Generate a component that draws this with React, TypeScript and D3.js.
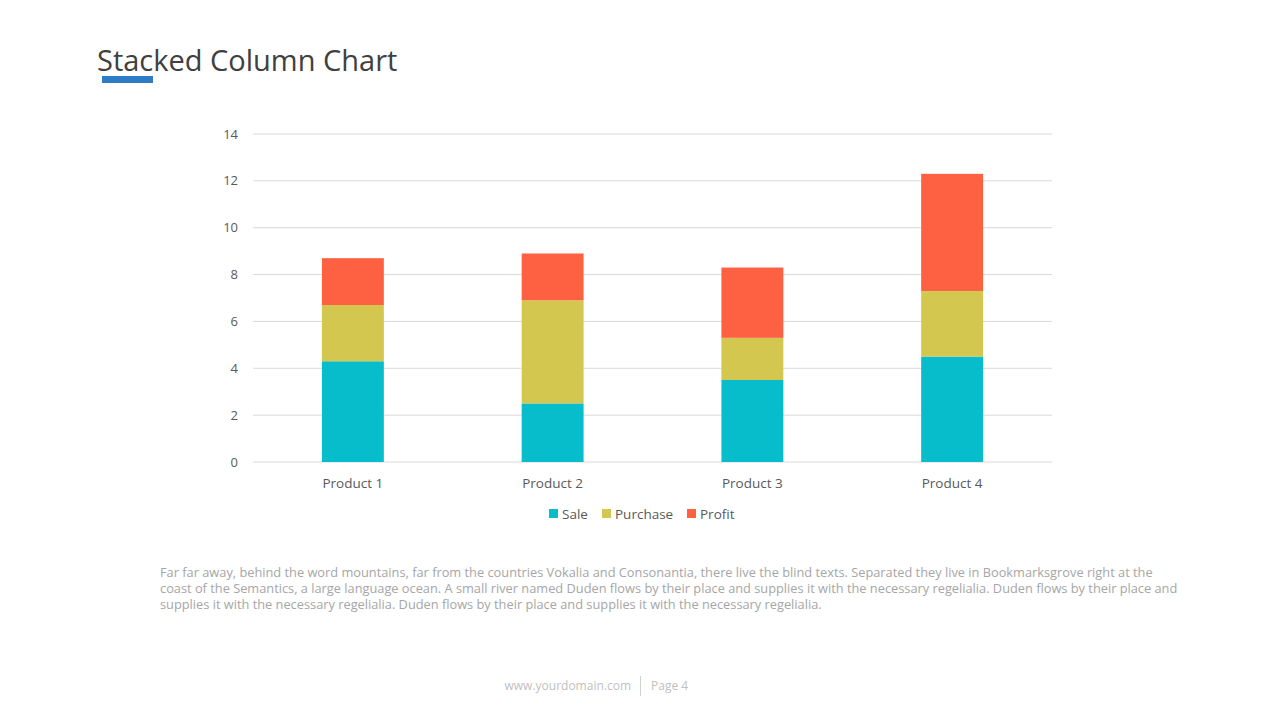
import { useEffect, useRef } from "react";
import * as d3 from "d3";

const categories = ["Product 1", "Product 2", "Product 3", "Product 4"];
const seriesNames = ["Sale", "Purchase", "Profit"];
const sale = [4.3, 2.5, 3.5, 4.5];
const purchase = [2.4, 4.4, 1.8, 2.8];
const profit = [2, 2, 3, 5];
const yTicks = [0, 2, 4, 6, 8, 10, 12, 14];
const colors = ["#08bdcb", "#d3c74f", "#fe6142"];

const paragraph = [
  "Far far away, behind the word mountains, far from the countries Vokalia and Consonantia, there live the blind texts. Separated they live in Bookmarksgrove right at the",
  "coast of the Semantics, a large language ocean. A small river named Duden flows by their place and supplies it with the necessary regelialia. Duden flows by their place and",
  "supplies it with the necessary regelialia. Duden flows by their place and supplies it with the necessary regelialia.",
];

const W = 1280;
const H = 720;

const App = () => {
  const ref = useRef<SVGSVGElement>(null);

  useEffect(() => {
    const svg = d3.select(ref.current);
    svg.selectAll("*").remove();

    const font = "'Open Sans', sans-serif";

    // title
    svg
      .append("text")
      .attr("x", 97)
      .attr("y", 71)
      .attr("font-family", font)
      .attr("font-size", 29)
      .attr("fill", "#404040")
      .text("Stacked Column  Chart");
    svg.append("rect").attr("x", 102).attr("y", 76).attr("width", 51).attr("height", 7).attr("fill", "#2e7bc6");

    const left = 253;
    const right = 1052;
    const top = 134;
    const bottom = 462;

    const x = d3.scaleBand().domain(categories).range([left, right]).paddingInner(0.69).paddingOuter(0.345);
    const y = d3.scaleLinear().domain([0, 14]).range([bottom, top]);

    const g = svg.append("g");

    // gridlines
    g.selectAll(".grid")
      .data(yTicks)
      .enter()
      .append("line")
      .attr("x1", left)
      .attr("x2", right)
      .attr("y1", (d) => y(d))
      .attr("y2", (d) => y(d))
      .attr("stroke", "#d9d9d9")
      .attr("stroke-width", 1);

    g.selectAll(".ytick")
      .data(yTicks)
      .enter()
      .append("text")
      .attr("x", 238)
      .attr("y", (d) => y(d) + 4.5)
      .attr("text-anchor", "end")
      .attr("font-family", font)
      .attr("font-size", 13)
      .attr("fill", "#595959")
      .text((d) => d);

    const rows = categories.map((c, i) => ({ cat: c, Sale: sale[i], Purchase: purchase[i], Profit: profit[i] }));
    const stacked = d3.stack<any>().keys(seriesNames)(rows);

    stacked.forEach((layer, li) => {
      g.selectAll(".bar" + li)
        .data(layer)
        .enter()
        .append("rect")
        .attr("x", (d: any) => x(d.data.cat) as number)
        .attr("width", x.bandwidth())
        .attr("y", (d) => y(d[1]))
        .attr("height", (d) => y(d[0]) - y(d[1]))
        .attr("fill", colors[li]);
    });

    g.selectAll(".xtick")
      .data(categories)
      .enter()
      .append("text")
      .attr("x", (d) => (x(d) as number) + x.bandwidth() / 2)
      .attr("y", 488)
      .attr("text-anchor", "middle")
      .attr("font-family", font)
      .attr("font-size", 13.5)
      .attr("fill", "#595959")
      .text((d) => d);

    // legend
    const legendX = [549, 602, 687];
    seriesNames.forEach((s, i) => {
      svg.append("rect").attr("x", legendX[i]).attr("y", 509).attr("width", 9).attr("height", 9).attr("fill", colors[i]);
      svg
        .append("text")
        .attr("x", legendX[i] + 13)
        .attr("y", 518.5)
        .attr("font-family", font)
        .attr("font-size", 13.5)
        .attr("fill", "#595959")
        .text(s);
    });

    // paragraph
    svg
      .selectAll(".para")
      .data(paragraph)
      .enter()
      .append("text")
      .attr("x", 160)
      .attr("y", (_, i) => 577 + i * 16)
      .attr("font-family", font)
      .attr("font-size", 12.8)
      .attr("fill", "#a6a6a6")
      .text((d) => d);

    // footer
    svg
      .append("text")
      .attr("x", 631)
      .attr("y", 690)
      .attr("text-anchor", "end")
      .attr("font-family", font)
      .attr("font-size", 12)
      .attr("fill", "#bfbfbf")
      .text("www.yourdomain.com");
    svg.append("line").attr("x1", 640.5).attr("x2", 640.5).attr("y1", 676).attr("y2", 696).attr("stroke", "#d0d0d0");
    svg
      .append("text")
      .attr("x", 651)
      .attr("y", 690)
      .attr("font-family", font)
      .attr("font-size", 12)
      .attr("fill", "#bfbfbf")
      .text("Page 4");
  }, []);

  return (
    <svg
      ref={ref}
      width={W}
      height={H}
      style={{ position: "absolute", left: 0, top: 0, background: "#fff" }}
    />
  );
};

export default App;
